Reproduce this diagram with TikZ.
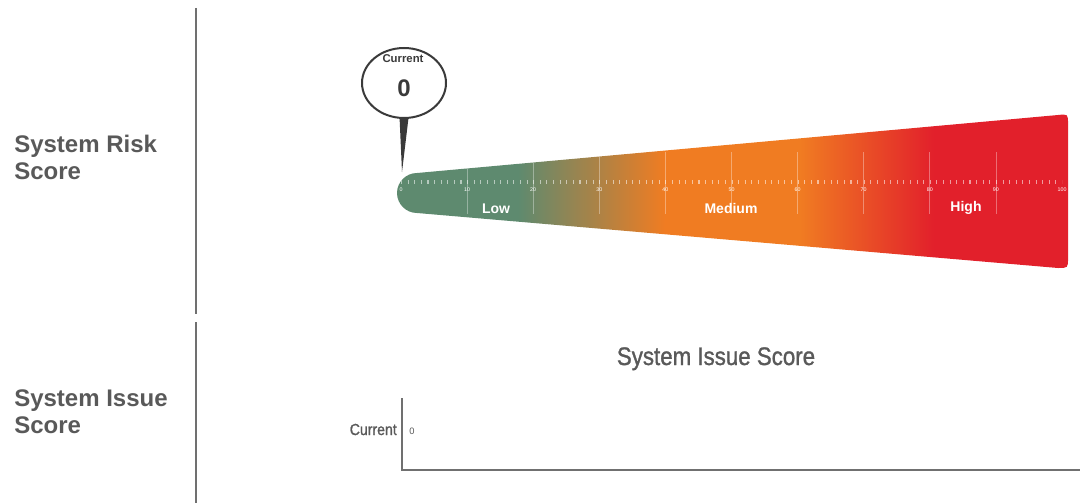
\documentclass[tikz,border=0pt]{standalone}
\usepackage{fontspec}
\setmainfont{Liberation Sans}
\newfontfamily\narrowfont[FakeStretch=0.88,FakeBold=1.2]{Liberation Sans}
\usetikzlibrary{shapes.geometric}

\definecolor{labelgray}{RGB}{89,89,89}
\definecolor{rulegray}{RGB}{112,112,112}
\definecolor{pingray}{RGB}{58,58,58}
\definecolor{lowgreen}{RGB}{94,138,111}
\definecolor{midorange}{RGB}{240,124,34}
\definecolor{highred}{RGB}{226,32,43}

\pgfdeclarehorizontalshading{riskshade}{100bp}{color(0bp)=(lowgreen); color(34bp)=(lowgreen); color(45bp)=(midorange); color(55bp)=(midorange); color(65bp)=(highred); color(100bp)=(highred)}
\newcommand{\riskbar}{(417,213) .. controls (406,213) and (397,204) .. (397,193) .. controls (397,182) and (406,173) .. (417,173) -- (1058,115) .. controls (1068,114) .. (1068,124) -- (1068,258) .. controls (1068,268) .. (1058,268) -- cycle}

\begin{document}
\begin{tikzpicture}[x=0.75pt,y=0.75pt,yscale=-1,xscale=1,
  rowlabel/.style={anchor=north west,inner sep=0pt,align=left,text=labelgray,font=\bfseries\fontsize{18}{20.25}\selectfont},
  bandlabel/.style={text=white,font=\bfseries\fontsize{10.5}{12}\selectfont,inner sep=0.75pt},
  ticklabel/.style={text=white,font=\fontsize{4}{4.5}\selectfont,inner sep=0pt},
  divider/.style={draw=rulegray,line width=1pt},
  axisline/.style={draw=rulegray,line width=1.5pt}]
\useasboundingbox (0,0) rectangle (1080,503);

% Text Node
\node (risklabel) [rowlabel] at (14,135) {System Risk\\Score};
% Text Node
\node (issuelabel) [rowlabel] at (14,389) {System Issue\\Score};

%Straight Lines
\coordinate (divtop) at (196,8);
\coordinate (divmid) at (196,314);
\coordinate (divlow) at (196,322);
\coordinate (divend) at (196,503);
\draw [divider] (divtop) -- (divmid);
\draw [divider] (divlow) -- (divend);

%Shape: Bar
\shade [shading=riskshade] \riskbar;
\begin{scope}
\clip \riskbar;
\foreach \k in {1,...,9}
  \draw [white,opacity=0.35,line width=0.6pt] (401+66.1*\k,152) -- (401+66.1*\k,214);
\draw [white,opacity=0.55,line width=3pt,dash pattern=on 0.8pt off 4.1575pt] (401,182) -- (1062,182);
\end{scope}
\foreach \v [count=\k from 0] in {0,10,...,100}
  \node (num\v) [ticklabel] at (401+66.1*\k,190) {\v};

% Text Node
\node (low) [bandlabel] at (496,209) {Low};
% Text Node
\node (medium) [bandlabel] at (731,208) {Medium};
% Text Node
\node (high) [bandlabel] at (966,208) {High};

%Shape: Pin
\coordinate (tip) at (402,172);
\node (pin) [ellipse,draw=pingray,fill=white,line width=1.5pt,minimum width=63pt,minimum height=52.5pt,inner sep=0pt] at (404,83) {};
\fill [pingray] (pin.-97) -- (tip) -- (pin.-83) -- cycle;
% Text Node
\node (pincap) [text=pingray,font=\bfseries\fontsize{8.5}{10}\selectfont,inner sep=0pt] at (403,59) {Current};
% Text Node
\node (pinval) [text=pingray,font=\bfseries\fontsize{18}{20}\selectfont,inner sep=0pt] at (404,88) {0};

% Text Node
\node (issuetitle) [anchor=base,text=labelgray,font=\narrowfont\fontsize{19}{22}\selectfont,inner sep=0pt] at (716,365) {System Issue Score};

%Straight Lines
\coordinate (axtop) at (402,398);
\coordinate (axcorner) at (402,470);
\coordinate (axend) at (1080,470);
\draw [axisline] (axtop) -- (axcorner) -- (axend);

% Text Node
\node (curlabel) [anchor=base east,text=labelgray,font=\narrowfont\fontsize{12}{14}\selectfont,inner sep=0pt] at (397,435) {Current};
% Text Node
\node (curval) [anchor=base,text=labelgray,font=\fontsize{7}{8}\selectfont,inner sep=0pt] at (412,434) {0};

\end{tikzpicture}
\end{document}
